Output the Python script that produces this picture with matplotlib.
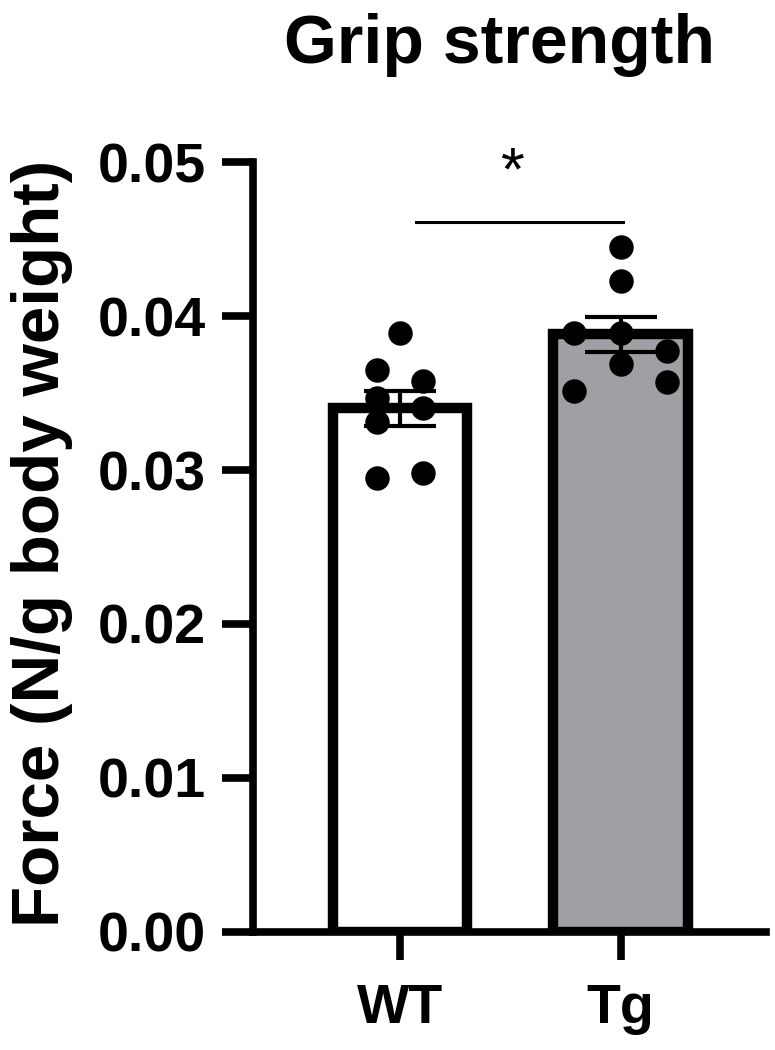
import numpy as np
import matplotlib
matplotlib.use("Agg")
import matplotlib.pyplot as plt

# data
groups = ["WT", "Tg"]
means = [0.0340, 0.0388]
sems = [0.00115, 0.00115]
wt_points = [0.0389, 0.0365, 0.0358, 0.0347, 0.0340, 0.0331, 0.0295, 0.0298]
tg_points = [0.0445, 0.0423, 0.0389, 0.0389, 0.0377, 0.0369, 0.0357, 0.0351]
bar_colors = ["white", "#a09fa4"]
sig_label = "*"

# horizontal spread of the dots (layout only)
wt_offsets = [0.0, -0.105, 0.105, -0.105, 0.105, -0.105, -0.105, 0.105]
tg_offsets = [0.0, 0.0, -0.21, 0.0, 0.21, 0.0, 0.21, -0.21]

plt.rcParams['font.family'] = ['Liberation Sans', 'DejaVu Sans']

fig = plt.figure(figsize=(7.75, 10.5), dpi=100)
ax = fig.add_axes([0.3265, 0.1124, 0.662, 0.7333])

x = np.arange(len(groups))
ax.bar(x, means, width=0.61, color=bar_colors, edgecolor="black",
       linewidth=7.5, zorder=2)

for xi, pts, offs in zip(x, [wt_points, tg_points], [wt_offsets, tg_offsets]):
    ax.scatter(xi + np.array(offs), pts, s=310, color="black", zorder=3,
               linewidths=0, clip_on=False)

ax.errorbar(x, means, yerr=sems, fmt="none", ecolor="black", elinewidth=3,
            capsize=26, capthick=3, zorder=4)

# significance bracket
ax.plot([0.07, 1.01], [0.0461, 0.0461], color="black", lw=2.2, clip_on=False)
ax.text(0.51, 0.0492, sig_label, ha="center", va="center", fontsize=44,
        clip_on=False)

ax.set_xlim(-0.668, 1.66)
ax.set_ylim(0, 0.05)
ax.set_yticks([0, 0.01, 0.02, 0.03, 0.04, 0.05])
ax.set_yticklabels([f"{v:.2f}" for v in [0, 0.01, 0.02, 0.03, 0.04, 0.05]])
ax.set_xticks(x)
ax.set_xticklabels(groups)

for s in ["top", "right"]:
    ax.spines[s].set_visible(False)
for s in ["left", "bottom"]:
    ax.spines[s].set_linewidth(5.5)
    ax.spines[s].set_capstyle("projecting")

ax.tick_params(axis="y", length=22, width=5.5, pad=12, labelsize=40)
ax.tick_params(axis="x", length=20, width=5.5, pad=17, labelsize=40)
for lab in ax.get_xticklabels() + ax.get_yticklabels():
    lab.set_fontweight("bold")

ax.set_ylabel("Force (N/g body weight)", fontsize=48.5, fontweight="bold")
ax.yaxis.set_label_coords(-0.35, 0.505)

fig.text(500 / 775, 1 - 45 / 1050, "Grip strength", ha="center", va="center",
         fontsize=49, fontweight="bold")

fig.savefig("out.png", dpi=100)
